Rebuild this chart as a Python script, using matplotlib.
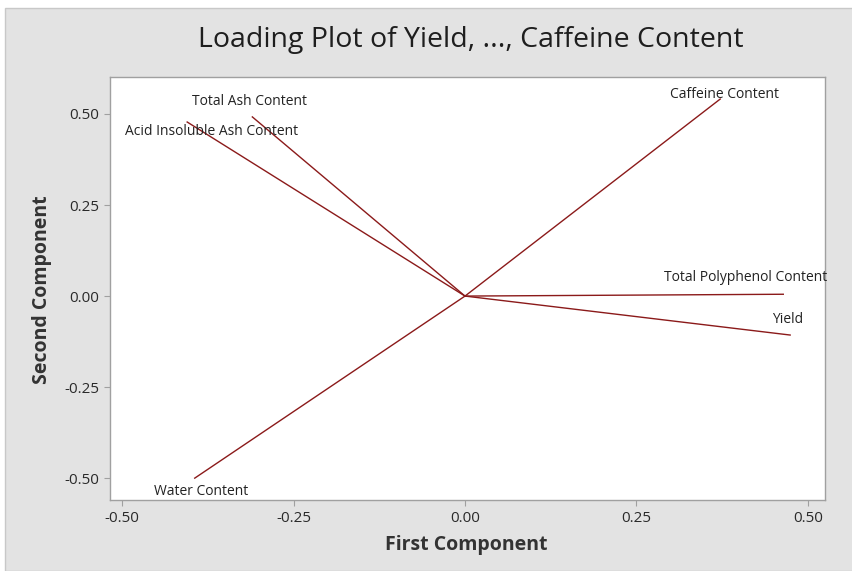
import matplotlib.pyplot as plt
from matplotlib.patches import Rectangle

# loadings on the first two principal components
variables = ["Yield", "Total Polyphenol Content", "Water Content",
             "Total Ash Content", "Acid Insoluble Ash Content", "Caffeine Content"]
pc1 = [0.474, 0.464, -0.394, -0.310, -0.405, 0.372]
pc2 = [-0.107, 0.005, -0.500, 0.492, 0.478, 0.541]

# where each label sits relative to the end of its line (pixels)
label_offsets = {
    "Yield": (-3, 16),
    "Total Polyphenol Content": (-38, 17),
    "Water Content": (6, -13),
    "Total Ash Content": (-3, 15),
    "Acid Insoluble Ash Content": (24, -9),
    "Caffeine Content": (4, 5),
}

plt.rcParams['font.family'] = ['Open Sans', 'DejaVu Sans']

fig = plt.figure(figsize=(8.53, 5.71), dpi=100)
fig.patch.set_facecolor("white")
fig.patches.append(Rectangle((5/853, 0), 1, 1 - 8/571, transform=fig.transFigure,
                             facecolor="#e3e3e3", edgecolor="#c8c8c8", lw=1, zorder=-10))

ax = fig.add_axes([110/853, 71/571, 715/853, 423/571])
ax.set_facecolor("white")

line_color = "#8b1a1a"
for name, x, y in zip(variables, pc1, pc2):
    ax.plot([0, x], [0, y], color=line_color, lw=1.0)
    dx, dy = label_offsets[name]
    ax.annotate(name, (x, y), xytext=(dx, dy), textcoords="offset pixels",
                ha="center", va="center", fontsize=10, color="#222222")

ax.set_xlim(-0.5175, 0.5248)
ax.set_ylim(-0.560, 0.6016)
ax.set_xticks([-0.50, -0.25, 0.00, 0.25, 0.50])
ax.set_yticks([-0.50, -0.25, 0.00, 0.25, 0.50])
ax.xaxis.set_major_formatter(plt.FormatStrFormatter("%.2f"))
ax.yaxis.set_major_formatter(plt.FormatStrFormatter("%.2f"))
ax.tick_params(direction="out", length=4, width=0.8, color="#a0a0a0",
               labelsize=11, labelcolor="#2a2a2a", pad=4)
for s in ax.spines.values():
    s.set_color("#a0a0a0")
    s.set_linewidth(1.0)

fig.text(471/853, 1 - 40/571, "Loading Plot of Yield, ..., Caffeine Content",
         ha="center", va="center", fontsize=20.5, color="#1e1e1e")
fig.text(466/853, 1 - 545/571, "First Component", ha="center", va="center",
         fontsize=14, fontweight="bold", color="#333333")
fig.text(42/853, 1 - 290/571, "Second Component", ha="center", va="center",
         rotation=90, fontsize=14, fontweight="bold", color="#333333")

fig.savefig("out.png", dpi=100)
